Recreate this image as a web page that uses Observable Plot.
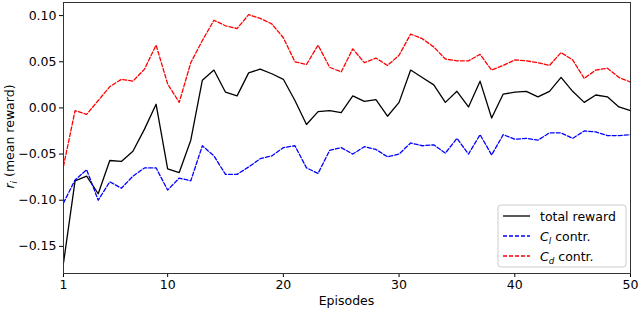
<!DOCTYPE html>
<html>
<head>
<meta charset="utf-8">
<script src="https://cdn.jsdelivr.net/npm/d3@7"></script>
<script src="https://cdn.jsdelivr.net/npm/@observablehq/plot@0.6"></script>
<style>
  html, body { margin: 0; padding: 0; background: #fff; }
  #chart svg { display: block; font-family: "DejaVu Sans", sans-serif; }
</style>
</head>
<body>
<div id="chart"></div>
<script>
const episodes = d3.range(1, 51);
const totalReward = [
  -0.168, -0.079, -0.074, -0.093, -0.057, -0.058, -0.047, -0.023, 0.004, -0.066,
  -0.070, -0.035, 0.030, 0.041, 0.017, 0.013, 0.038, 0.042, 0.037, 0.031,
  0.008, -0.018, -0.004, -0.003, -0.005, 0.013, 0.007, 0.009, -0.009, 0.006,
  0.041, 0.033, 0.025, 0.006, 0.018, 0.001, 0.029, -0.011, 0.015, 0.017,
  0.018, 0.012, 0.018, 0.033, 0.018, 0.006, 0.014, 0.012, 0.001, -0.003
];
const clContr = [
  -0.103, -0.078, -0.067, -0.100, -0.080, -0.087, -0.074, -0.065, -0.065, -0.089,
  -0.076, -0.079, -0.041, -0.052, -0.072, -0.072, -0.064, -0.055, -0.052, -0.043,
  -0.041, -0.065, -0.071, -0.046, -0.043, -0.050, -0.042, -0.045, -0.053, -0.050,
  -0.038, -0.041, -0.040, -0.049, -0.033, -0.050, -0.029, -0.051, -0.029, -0.034,
  -0.033, -0.035, -0.027, -0.027, -0.033, -0.025, -0.026, -0.030, -0.030, -0.029
];
const cdContr = [
  -0.063, -0.003, -0.007, 0.008, 0.023, 0.031, 0.029, 0.042, 0.068, 0.026,
  0.006, 0.049, 0.073, 0.095, 0.089, 0.086, 0.101, 0.097, 0.091, 0.076,
  0.050, 0.047, 0.068, 0.044, 0.039, 0.064, 0.049, 0.054, 0.046, 0.057,
  0.080, 0.075, 0.066, 0.053, 0.051, 0.051, 0.058, 0.041, 0.046, 0.052,
  0.051, 0.049, 0.046, 0.060, 0.052, 0.032, 0.041, 0.043, 0.033, 0.028
];
const xTicks = [1, 10, 20, 30, 40, 50];
const yTicks = [-0.15, -0.10, -0.05, 0.00, 0.05, 0.10];
const seriesNames = ["total reward", "C_l contr.", "C_d contr."];

const data = episodes.map((e, i) => ({episode: e, total: totalReward[i], cl: clContr[i], cd: cdContr[i]}));

const fmt = d => d3.format(".2f")(d).replace("-", "\u2212");
const fs = 12.5;

const plot = Plot.plot({
  width: 640,
  height: 309,
  marginLeft: 63,
  marginRight: 10,
  marginTop: 2,
  marginBottom: 36,
  style: {fontFamily: "DejaVu Sans, sans-serif", fontSize: fs + "px", color: "#000", background: "#fff"},
  x: {domain: [1, 50]},
  y: {domain: [-0.1794, 0.1142]},
  marks: [
    Plot.axisX({ticks: xTicks, tickSize: 4, tickPadding: 3, label: null, fontSize: fs, tickFormat: d => String(d)}),
    Plot.axisY({ticks: yTicks, tickSize: 4, tickPadding: 3, label: null, fontSize: fs, tickFormat: fmt}),
    Plot.line(data, {x: "episode", y: "total", stroke: "#000", strokeWidth: 1.3}),
    Plot.line(data, {x: "episode", y: "cl", stroke: "#0000ff", strokeWidth: 1.3, strokeDasharray: "4,2"}),
    Plot.line(data, {x: "episode", y: "cd", stroke: "#ff0000", strokeWidth: 1.3, strokeDasharray: "4,2"}),
    Plot.frame({stroke: "#333", strokeWidth: 1})
  ]
});

document.getElementById("chart").appendChild(plot);

const svg = d3.select(plot);
// x axis label
svg.append("text").attr("x", (63 + 630) / 2).attr("y", 305)
  .attr("text-anchor", "middle").attr("font-size", fs).attr("fill", "#000").text("Episodes");
// y axis label with subscript
const yl = svg.append("text").attr("transform", "translate(14," + (2 + 271) / 2 + ") rotate(-90)")
  .attr("text-anchor", "middle").attr("font-size", fs).attr("fill", "#000");
yl.append("tspan").attr("font-style", "italic").text("r");
yl.append("tspan").attr("font-style", "italic").attr("font-size", fs * 0.7).attr("dy", 3).text("i");
yl.append("tspan").attr("dy", -3).text(" (mean reward)");

// legend
const lg = svg.append("g").attr("text-anchor", "start");
lg.append("rect").attr("x", 498).attr("y", 205).attr("width", 128).attr("height", 62)
  .attr("rx", 3).attr("fill", "#fff").attr("fill-opacity", 0.8).attr("stroke", "#ccc");
const items = [
  {name: seriesNames[0], color: "#000", dash: null},
  {name: seriesNames[1], color: "#0000ff", dash: "4,2"},
  {name: seriesNames[2], color: "#ff0000", dash: "4,2"}
];
items.forEach((it, i) => {
  const cy = 216 + i * 20;
  lg.append("line").attr("x1", 503).attr("x2", 530).attr("y1", cy).attr("y2", cy)
    .attr("stroke", it.color).attr("stroke-width", 1.3).attr("stroke-dasharray", it.dash);
  const t = lg.append("text").attr("x", 540).attr("y", cy + 4.5).attr("text-anchor", "start")
    .attr("font-size", fs).attr("fill", "#000");
  if (i === 0) {
    t.text(it.name);
  } else {
    const parts = it.name.split(" ");
    const [c, sub] = parts[0].split("_");
    t.append("tspan").attr("font-style", "italic").text(c);
    t.append("tspan").attr("font-style", "italic").attr("font-size", fs * 0.7).attr("dy", 3).text(sub);
    t.append("tspan").attr("dy", -3).text(" " + parts.slice(1).join(" "));
  }
});
</script>
</body>
</html>
